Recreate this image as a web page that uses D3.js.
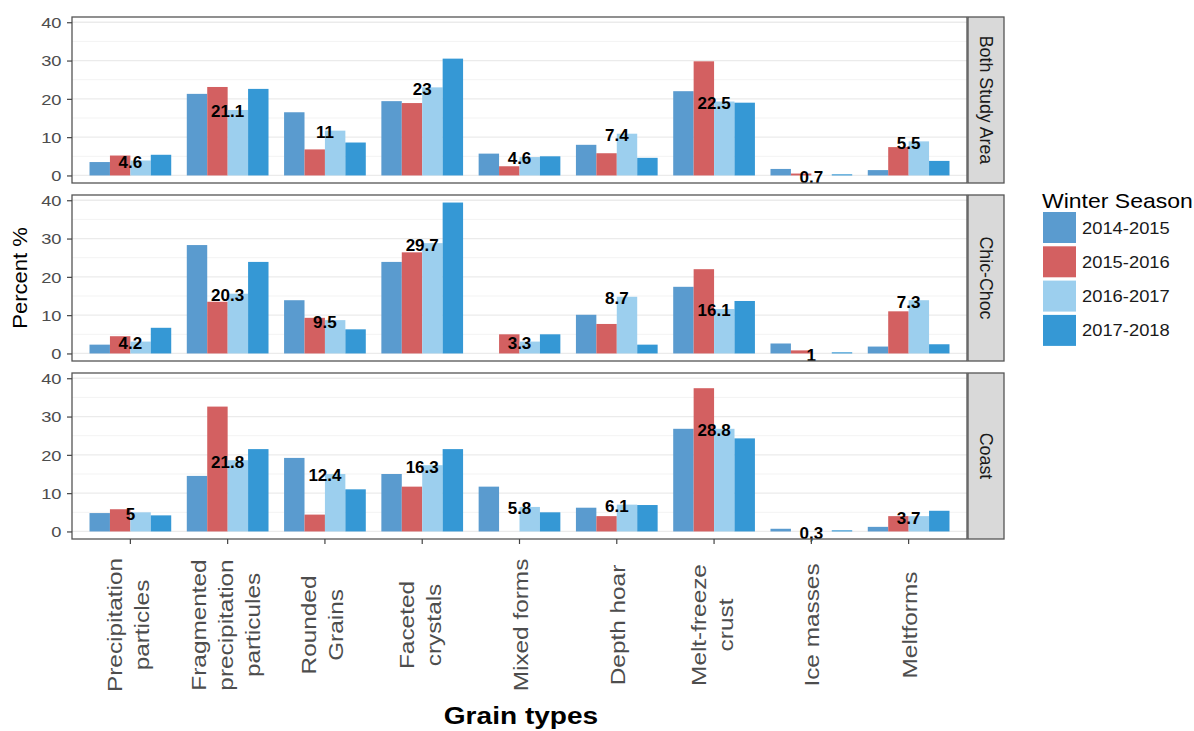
<!DOCTYPE html>
<html><head><meta charset="utf-8">
<script src="https://cdn.jsdelivr.net/npm/d3@7"></script>
<style>body{margin:0;background:#fff}svg{display:block}</style>
</head><body>
<svg id="c" width="1194" height="731"></svg>
<script>
// ---------- data ----------
const categories = ["Precipitation\nparticles", "Fragmented\nprecipitation\nparticules", "Rounded\nGrains", "Faceted\ncrystals", "Mixed forms", "Depth hoar", "Melt-freeze\ncrust", "Ice masses", "Meltforms"];
const seasons = ["2014-2015", "2015-2016", "2016-2017", "2017-2018"];
const facets = ["Both Study Area", "Chic-Choc", "Coast"];
const yTicks = [0, 10, 20, 30, 40];
const yMinorTicks = [5, 15, 25, 35];

// values per season (rows) and grain type (columns)
const bothStudyArea = [
  [3.5, 21.3, 16.5, 19.4, 5.7, 8.0, 22.0, 1.7, 1.4],
  [5.2, 23.1, 6.8, 18.9, 2.4, 5.8, 29.8, 0.5, 7.4],
  [3.9, 17.1, 11.7, 23.0, 4.8, 10.9, 19.3, 0.0, 8.9],
  [5.4, 22.6, 8.6, 30.5, 5.0, 4.6, 19.0, 0.3, 3.8]
];
const chicChoc = [
  [2.3, 28.3, 13.9, 23.9, 0.0, 10.1, 17.4, 2.6, 1.8],
  [4.5, 13.5, 9.3, 26.4, 5.0, 7.7, 22.0, 0.8, 11.0],
  [3.1, 15.6, 8.7, 28.8, 3.1, 14.8, 11.6, 0.0, 13.9],
  [6.7, 23.9, 6.3, 39.4, 5.0, 2.3, 13.7, 0.3, 2.4]
];
const coast = [
  [4.8, 14.5, 19.2, 15.0, 11.7, 6.2, 26.8, 0.7, 1.2],
  [5.8, 32.6, 4.4, 11.7, 0.0, 4.0, 37.4, 0.0, 4.0],
  [5.0, 18.6, 15.0, 17.3, 6.4, 7.0, 26.8, 0.0, 4.0],
  [4.2, 21.5, 11.0, 21.5, 5.0, 6.9, 24.3, 0.3, 5.4]
];
// mean labels printed on each group
const bothLabels = ["4.6", "21.1", "11", "23", "4.6", "7.4", "22.5", "0.7", "5.5"];
const chicLabels = ["4.2", "20.3", "9.5", "29.7", "3.3", "8.7", "16.1", "1", "7.3"];
const coastLabels = ["5", "21.8", "12.4", "16.3", "5.8", "6.1", "28.8", "0,3", "3.7"];

const seasonColors = ["#5a9bcf", "#d36061", "#9ccfee", "#3598d5"];

const panelValues = [bothStudyArea, chicChoc, coast];
const panelLabels = [bothLabels, chicLabels, coastLabels];

// ---------- layout ----------
const FONT = "'Liberation Sans', Arial, Helvetica, sans-serif";
const plotL = 72, plotR = 967;
const panelTops = [17, 195, 373];
const panelH = 166;
const svg = d3.select("#c");

const x = d3.scaleBand().domain(categories).range([plotL, plotR]).paddingInner(0).paddingOuter(0.1);
const xs = d3.scaleBand().domain(seasons).range([-0.42 * x.step(), 0.42 * x.step()]);
const xc = c => x(c) + x.bandwidth() / 2;

facets.forEach((facet, pi) => {
  const top = panelTops[pi], bot = top + panelH;
  const y = d3.scaleLinear().domain([-1.97, 41.37]).range([bot, top]);
  const g = svg.append("g");

  g.selectAll(".mn").data(yMinorTicks).join("line")
    .attr("x1", plotL).attr("x2", plotR)
    .attr("y1", d => y(d)).attr("y2", d => y(d))
    .attr("stroke", "#f3f3f3").attr("stroke-width", 1);
  g.selectAll(".mj").data(yTicks).join("line")
    .attr("x1", plotL).attr("x2", plotR)
    .attr("y1", d => y(d)).attr("y2", d => y(d))
    .attr("stroke", "#ebebeb").attr("stroke-width", 1.3);

  seasons.forEach((s, si) => {
    g.append("g").selectAll("rect").data(panelValues[pi][si]).join("rect")
      .attr("x", (d, i) => xc(categories[i]) + xs(s))
      .attr("width", xs.bandwidth())
      .attr("y", d => y(Math.max(0, d)))
      .attr("height", d => Math.abs(y(d) - y(0)))
      .attr("fill", seasonColors[si]);
  });

  // labels positioned at the 2016-2017 bar
  g.append("g").selectAll("text").data(panelLabels[pi]).join("text")
    .attr("x", (d, i) => xc(categories[i]))
    .attr("y", (d, i) => y(panelValues[pi][2][i]) + 7.4)
    .attr("text-anchor", "middle")
    .attr("font-family", FONT).attr("font-weight", "bold").attr("font-size", 17)
    .attr("fill", "#000")
    .text(d => d);

  g.append("rect").attr("x", plotL).attr("y", top)
    .attr("width", plotR - plotL).attr("height", panelH)
    .attr("fill", "none").attr("stroke", "#555").attr("stroke-width", 1.3);

  // y axis
  const ax = g.append("g").attr("transform", `translate(${plotL},0)`)
    .call(d3.axisLeft(y).tickValues(yTicks).tickSize(5).tickPadding(0));
  ax.select(".domain").remove();
  ax.selectAll(".tick line").attr("stroke", "#444").attr("stroke-width", 1.2);
  ax.selectAll(".tick text")
    .attr("x", 0).attr("dy", null)
    .attr("transform", "translate(-10.5,5.3) scale(1.22,1)")
    .attr("font-family", FONT).attr("font-size", 15).attr("fill", "#4d4d4d");

  // strip
  g.append("rect").attr("x", 968).attr("y", top).attr("width", 36).attr("height", panelH)
    .attr("fill", "#d9d9d9").attr("stroke", "#555").attr("stroke-width", 1.3);
  g.append("text")
    .attr("transform", `translate(986,${top + panelH / 2}) rotate(90)`)
    .attr("text-anchor", "middle").attr("dominant-baseline", "central")
    .attr("font-family", FONT).attr("font-size", 17.8).attr("fill", "#1a1a1a")
    .text(facet);

  if (pi === facets.length - 1) {
    const bx = g.append("g").attr("transform", `translate(0,${bot})`)
      .call(d3.axisBottom(x).tickSize(5).tickFormat(""));
    bx.select(".domain").remove();
    bx.selectAll(".tick line").attr("stroke", "#444").attr("stroke-width", 1.2);
    bx.selectAll(".tick text").remove();
  }
});

// x tick labels (rotated, multi-line)
categories.forEach(c => {
  const lines = c.split("\n");
  const n = lines.length;
  const off = n === 1 ? 8 : 5;
  const t = svg.append("g")
    .attr("transform", `translate(${xc(c)},625) rotate(-90) scale(1.16,1)`);
  lines.forEach((ln, k) => {
    t.append("text")
      .attr("x", 0).attr("y", (k - (n - 1) / 2) * 27 + off)
      .attr("text-anchor", "middle")
      .attr("font-family", FONT).attr("font-size", 21).attr("fill", "#4d4d4d")
      .text(ln);
  });
});

// axis titles
svg.append("text")
  .attr("transform", "translate(521,724) scale(1.17,1)")
  .attr("text-anchor", "middle")
  .attr("font-family", FONT).attr("font-weight", "bold").attr("font-size", 24).attr("fill", "#000")
  .text("Grain types");
svg.append("text")
  .attr("transform", "translate(26.5,278) rotate(-90) scale(1.05,1)")
  .attr("text-anchor", "middle")
  .attr("font-family", FONT).attr("font-size", 21).attr("fill", "#000")
  .text("Percent %");

// legend
const lg = svg.append("g");
lg.append("text")
  .attr("transform", "translate(1042,208) scale(1.15,1)")
  .attr("font-family", FONT).attr("font-size", 20).attr("fill", "#000")
  .text("Winter Season");
const ly = d3.scaleBand().domain(seasons).range([212, 212 + 4 * 34.3]);
lg.selectAll("rect").data(seasons).join("rect")
  .attr("x", 1043).attr("y", d => ly(d)).attr("width", 33).attr("height", 31)
  .attr("fill", (d, i) => seasonColors[i]);
lg.selectAll("text.lab").data(seasons).join("text").attr("class", "lab")
  .attr("transform", d => `translate(1082,${ly(d) + 15.5 + 6}) scale(1.08,1)`)
  .attr("font-family", FONT).attr("font-size", 17).attr("fill", "#1a1a1a")
  .text(d => d);
</script>
</body></html>
